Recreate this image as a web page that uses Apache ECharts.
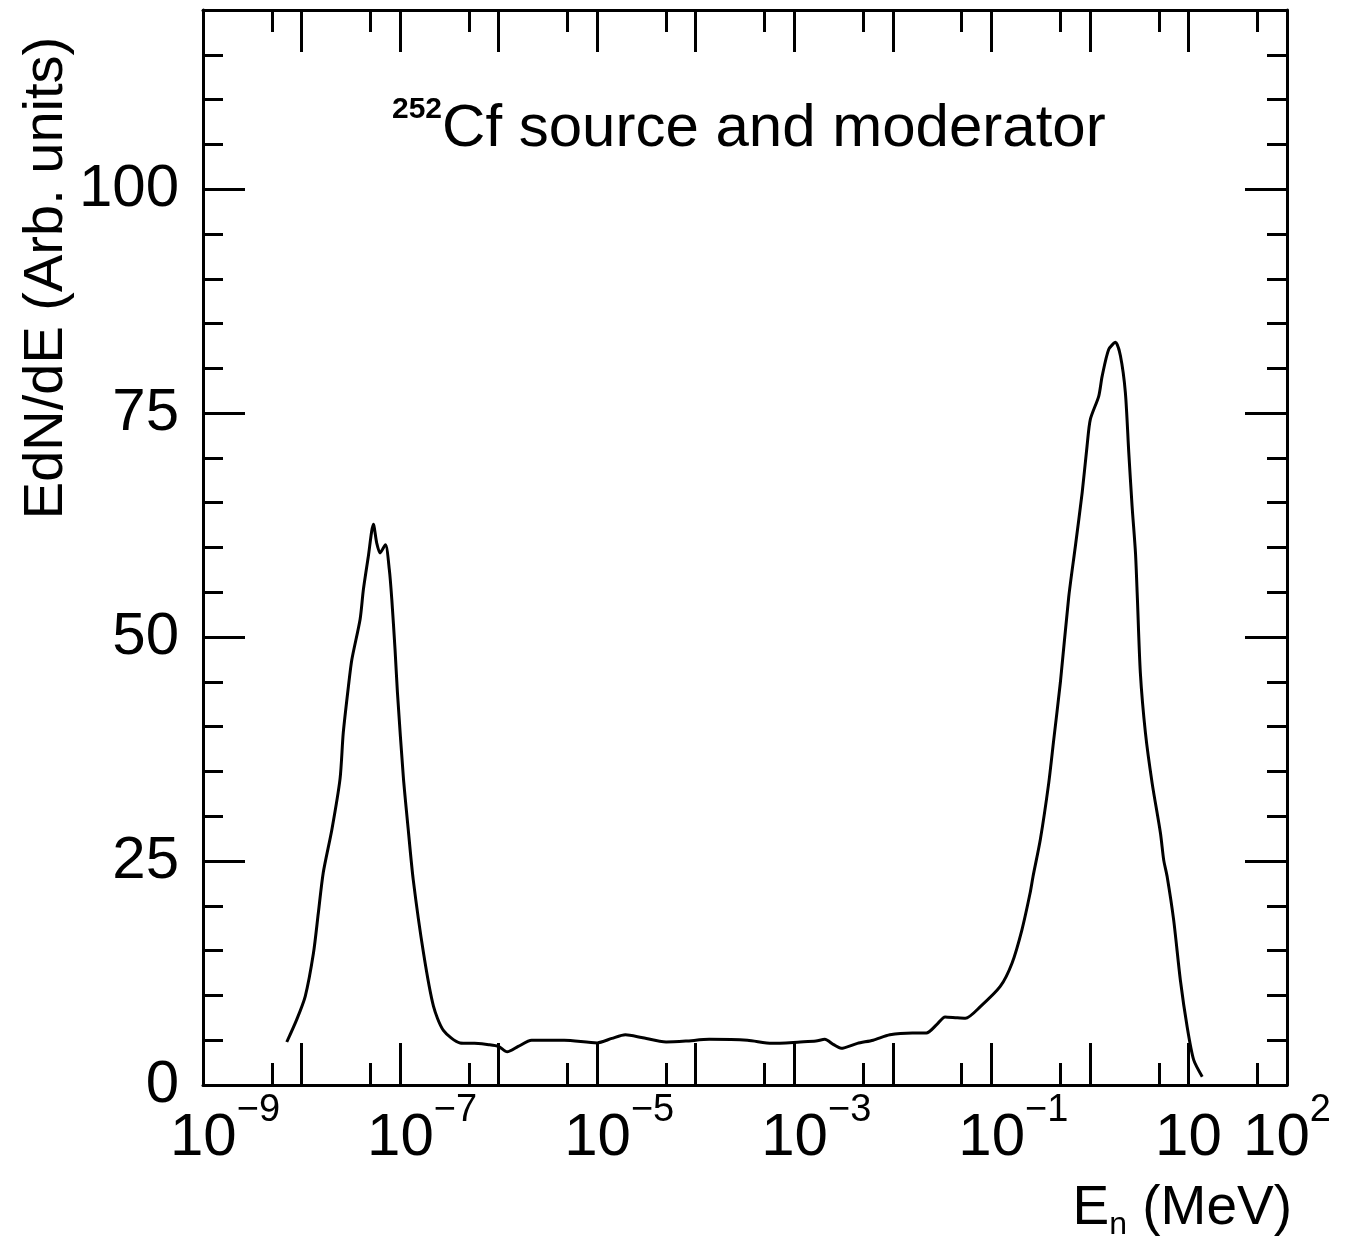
<!DOCTYPE html>
<html>
<head>
<meta charset="utf-8">
<script src="https://cdn.jsdelivr.net/npm/echarts@6/dist/echarts.min.js"></script>
<style>
html,body{margin:0;padding:0;background:#fff;}
#chart{width:1355px;height:1245px;}
</style>
</head>
<body>
<div id="chart"></div>
<script>
// Neutron energy in MeV (log axis) and EdN/dE (arbitrary units)
const energyMeV = [
  7.08e-9, 8.93e-9, 1.09e-8, 1.32e-8, 1.48e-8, 1.66e-8, 2.03e-8, 2.46e-8, 2.65e-8, 2.99e-8,
  3.24e-8, 3.93e-8, 4.24e-8, 4.76e-8, 5.36e-8, 5.79e-8, 6.26e-8, 7.10e-8, 7.78e-8, 8.24e-8,
  8.89e-8, 9.40e-8, 1.08e-7, 1.21e-7, 1.36e-7, 1.73e-7, 2.18e-7, 2.75e-7, 4.06e-7, 5.70e-7,
  7.94e-7, 1.0e-6, 1.22e-6, 1.58e-6, 2.16e-6, 4.62e-6, 1.0e-5, 1.41e-5, 1.93e-5, 2.82e-5,
  5.01e-5, 7.94e-5, 1.37e-4, 3.35e-4, 5.93e-4, 1.15e-3, 1.66e-3, 2.04e-3, 2.51e-3, 2.99e-3,
  4.37e-3, 6.31e-3, 9.33e-3, 1.58e-2, 2.19e-2, 2.82e-2, 3.39e-2, 4.47e-2, 5.45e-2, 7.73e-2,
  0.123, 0.162, 0.204, 0.247, 0.265, 0.314, 0.382, 0.429, 0.501, 0.610,
  0.713, 0.834, 0.935, 1.01, 1.23, 1.33, 1.55, 1.82, 2.04, 2.29,
  2.48, 2.68, 2.90, 3.03, 3.25, 3.66, 4.28, 5.20, 5.61, 6.07,
  7.08, 8.28, 9.70, 11.3, 13.8
];
const edndE = [
  4.8, 7.3, 9.9, 14.7, 19.2, 23.7, 28.5, 34.2, 39.3, 44.5,
  47.5, 52.0, 55.3, 59.0, 62.6, 60.5, 59.4, 60.3, 57.5, 54.2,
  48.6, 43.8, 34.3, 28.5, 22.9, 14.7, 8.8, 6.1, 4.7, 4.65,
  4.5, 4.3, 3.7, 4.3, 5.0, 5.0, 4.7, 5.2, 5.6, 5.3,
  4.8, 4.9, 5.1, 5.0, 4.65, 4.8, 4.9, 5.1, 4.5, 4.1,
  4.65, 5.0, 5.6, 5.8, 5.8, 6.8, 7.6, 7.5, 7.45, 8.75,
  11.0, 13.6, 17.3, 21.4, 23.3, 27.4, 33.7, 38.5, 44.9, 54.5,
  60.2, 66.1, 71.3, 74.3, 76.9, 79.1, 82.1, 82.9, 81.4, 77.3,
  70.6, 64.6, 59.4, 54.4, 46.0, 39.3, 33.7, 28.1, 25.1, 23.3,
  18.4, 11.7, 6.5, 2.8, 0.93
];

// Axis ranges and ticks
const xMin = 1e-9, xMax = 1e2;
const decadeExp = [-9, -8, -7, -6, -5, -4, -3, -2, -1, 0, 1, 2];
const labelExp = [-9, -7, -5, -3, -1, 1, 2];
const halfDecadeE = [5e-9, 5e-8, 5e-7, 5e-6, 5e-5, 5e-4, 5e-3, 5e-2, 5e-1, 5, 50];
const yMin = 0, yMax = 120;
const yMajor = [0, 25, 50, 75, 100];
const yMinor = [5, 10, 15, 20, 30, 35, 40, 45, 55, 60, 65, 70, 80, 85, 90, 95, 105, 110, 115];

const FONT = '"Liberation Sans", Arial, Helvetica, sans-serif';
const halfDecadeExp = halfDecadeE.map(v => Math.log10(v));

const chart = echarts.init(document.getElementById('chart'), null, {renderer: 'canvas'});

const lineStyle = {color: '#000', width: 3};
function expAxis(position, ticks, len, showLine, labels) {
  return {
    type: 'value', position: position, min: Math.log10(xMin), max: Math.log10(xMax),
    axisLine: {show: showLine, onZero: false, lineStyle: lineStyle},
    axisTick: {show: true, inside: true, length: len, lineStyle: {color: '#000', width: 3}, customValues: ticks},
    axisLabel: labels ? {
      show: true, margin: 7, customValues: labels, color: '#000',
      formatter: function (v) {
        if (v === 1) return '{b|10}';
        if (v > 0) return '{b|10}{s|' + v + '}';
        return '{sp| }{b|10}{s|\u2212' + (-v) + '}';
      },
      rich: {
        b: {fontSize: 60, fontFamily: FONT, lineHeight: 92, color: '#000'},
        s: {fontSize: 38, fontFamily: FONT, lineHeight: 40, verticalAlign: 'top', color: '#000'},
        sp: {width: 44, fontSize: 38, lineHeight: 40}
      }
    } : {show: false},
    splitLine: {show: false}
  };
}
function valAxis(position, ticks, len, showLine, labels) {
  return {
    type: 'value', position: position, min: yMin, max: yMax,
    axisLine: {show: showLine, onZero: false, lineStyle: lineStyle},
    axisTick: {show: true, inside: true, length: len, lineStyle: {color: '#000', width: 3}, customValues: ticks},
    axisLabel: labels ? {
      show: true, margin: 24, customValues: labels, color: '#000',
      fontSize: 60, fontFamily: FONT
    } : {show: false},
    splitLine: {show: false}
  };
}

const option = {
  backgroundColor: '#fff',
  animation: false,
  grid: {left: 203, right: 68, top: 10, bottom: 160, containLabel: false},
  xAxis: [
    {
      type: 'log', logBase: 10, min: xMin, max: xMax, position: 'bottom',
      axisLine: {show: false}, axisTick: {show: false}, axisLabel: {show: false}, splitLine: {show: false}
    },
    expAxis('bottom', decadeExp, 42, true, labelExp),
    expAxis('bottom', halfDecadeExp, 22, false, null),
    expAxis('top', decadeExp, 42, true, null),
    expAxis('top', halfDecadeExp, 22, false, null)
  ],
  yAxis: [
    valAxis('left', yMajor, 42, true, yMajor),
    valAxis('left', yMinor, 20, false, null),
    valAxis('right', yMajor, 42, true, null),
    valAxis('right', yMinor, 20, false, null)
  ],
  series: [{
    type: 'line',
    xAxisIndex: 0, yAxisIndex: 0,
    data: energyMeV.map((e, i) => [e, edndE[i]]),
    showSymbol: false,
    smooth: 0.25,
    lineStyle: {color: '#000', width: 3},
    clip: true
  }],
  graphic: [
    {
      type: 'text', x: 47, y: 278, rotation: Math.PI / 2,
      style: {
        text: 'EdN/dE (Arb. units)', font: '56px ' + FONT, fill: '#000',
        textAlign: 'center', textVerticalAlign: 'middle'
      }
    },
    {
      type: 'text', x: 392, y: 95,
      style: {
        text: '{sup|252}{t|Cf source and moderator}',
        textAlign: 'left', textVerticalAlign: 'top',
        rich: {
          sup: {fontSize: 30, fontWeight: 'bold', fontFamily: FONT, lineHeight: 34, verticalAlign: 'top', fill: '#000'},
          t: {fontSize: 60, fontFamily: FONT, lineHeight: 68, fill: '#000'}
        }
      }
    },
    {
      type: 'text', x: 1292, y: 1177,
      style: {
        text: '{e|E}{n|n}{e| (MeV)}',
        textAlign: 'right', textVerticalAlign: 'top',
        rich: {
          e: {fontSize: 55, fontFamily: FONT, lineHeight: 64, fill: '#000'},
          n: {fontSize: 32, fontFamily: FONT, lineHeight: 40, verticalAlign: 'bottom', fill: '#000'}
        }
      }
    }
  ]
};
chart.setOption(option);
</script>
</body>
</html>
